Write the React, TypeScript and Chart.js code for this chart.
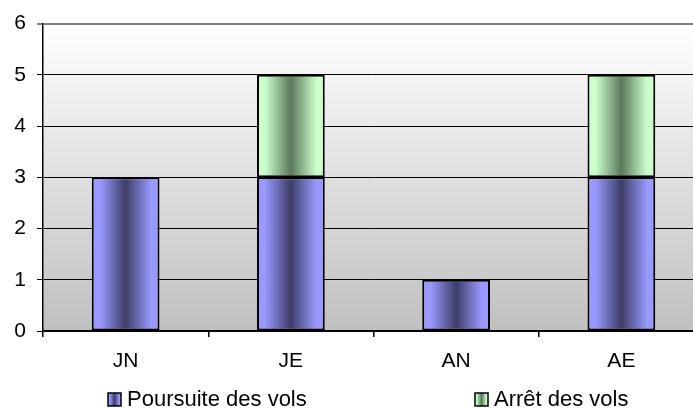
import React, { useEffect, useRef } from "react";
import { Chart, registerables } from "chart.js";

Chart.register(...registerables);

const categories = ["JN", "JE", "AN", "AE"];
const poursuite = [3, 3, 1, 3];
const arret = [null, 2, null, 2];
const seriesNames = ["Poursuite des vols", "Arrêt des vols"];
const yTicks = [0, 1, 2, 3, 4, 5, 6];

const FONT = "'Liberation Sans', Arial, sans-serif";
const BLUE_EDGE = "#9999ff";
const BLUE_MID = "#3e3e68";
const GREEN_EDGE = "#ccffcc";
const GREEN_MID = "#5a785a";
const BAR_PCT = 0.41;

function hGrad(ctx: CanvasRenderingContext2D, x0: number, x1: number, edge: string, mid: string) {
  const g = ctx.createLinearGradient(x0, 0, x1, 0);
  g.addColorStop(0, edge);
  g.addColorStop(0.12, edge);
  g.addColorStop(0.5, mid);
  g.addColorStop(0.88, edge);
  g.addColorStop(1, edge);
  return g;
}

function barFill(edge: string, mid: string) {
  return (c: any) => {
    const chart = c.chart;
    const xs = chart.scales && chart.scales.x;
    if (!chart.chartArea || !xs || c.dataIndex === undefined) return edge;
    const cx = xs.getPixelForValue(c.dataIndex);
    const w = ((xs.right - xs.left) / categories.length) * BAR_PCT;
    return hGrad(chart.ctx, cx - w / 2, cx + w / 2, edge, mid);
  };
}

const bgPlugin = {
  id: "plotBg",
  beforeDraw(chart: any) {
    const { ctx, chartArea } = chart;
    const g = ctx.createLinearGradient(0, chartArea.top, 0, chartArea.bottom);
    g.addColorStop(0, "#ffffff");
    g.addColorStop(1, "#c0c0c0");
    ctx.save();
    ctx.fillStyle = g;
    ctx.fillRect(chartArea.left, chartArea.top, chartArea.right - chartArea.left, chartArea.bottom - chartArea.top);
    ctx.restore();
  },
  afterDraw(chart: any) {
    const ctx = chart.ctx;
    const items = [
      { x: 108, text: seriesNames[0], edge: BLUE_EDGE, mid: BLUE_MID },
      { x: 475, text: seriesNames[1], edge: GREEN_EDGE, mid: GREEN_MID },
    ];
    ctx.save();
    items.forEach((it) => {
      const bx = it.x, by = 393, bw = 13, bh = 13;
      ctx.fillStyle = hGrad(ctx, bx, bx + bw, it.edge, it.mid);
      ctx.fillRect(bx, by, bw, bh);
      ctx.strokeStyle = "#000";
      ctx.lineWidth = 1.5;
      ctx.strokeRect(bx, by, bw, bh);
      ctx.fillStyle = "#000";
      ctx.font = `22px ${FONT}`;
      ctx.textBaseline = "alphabetic";
      ctx.textAlign = "left";
      ctx.fillText(it.text, bx + 19, 406);
    });
    ctx.restore();
  },
};

export default function App() {
  const ref = useRef<HTMLCanvasElement>(null);
  useEffect(() => {
    document.body.style.margin = "0";
    const chart = new Chart(ref.current!, {
      type: "bar",
      data: {
        labels: categories,
        datasets: [
          { label: seriesNames[0], data: poursuite as any, backgroundColor: barFill(BLUE_EDGE, BLUE_MID) as any },
          { label: seriesNames[1], data: arret as any, backgroundColor: barFill(GREEN_EDGE, GREEN_MID) as any },
        ],
      },
      options: {
        responsive: false,
        animation: false,
        devicePixelRatio: 1,
        layout: { padding: { top: 21, left: 0, right: 0, bottom: 0 } },
        datasets: {
          bar: {
            borderColor: "#000",
            borderWidth: 2,
            borderSkipped: false,
            categoryPercentage: 1,
            barPercentage: BAR_PCT,
          },
        } as any,
        plugins: { legend: { display: false }, tooltip: { enabled: false } },
        scales: {
          x: {
            stacked: true,
            grid: { offset: true, drawOnChartArea: false, drawTicks: true, tickLength: 6, color: "#000", lineWidth: 1.5 },
            border: { color: "#000", width: 2 },
            ticks: { color: "#000", font: { family: FONT, size: 21 }, padding: 12 },
            afterFit: (s: any) => { s.height = 77; },
          },
          y: {
            stacked: true,
            min: 0,
            max: 6,
            afterBuildTicks: (s: any) => { s.ticks = yTicks.map((v) => ({ value: v })); },
            grid: {
              color: (c: any) => (c.tick && c.tick.value === 6 ? "#808080" : "#000"),
              lineWidth: (c: any) => (c.tick && c.tick.value === 6 ? 2 : 1),
              drawTicks: true,
              tickLength: 6,
            },
            border: { color: "#000", width: 1.5 },
            ticks: { color: "#000", font: { family: FONT, size: 21 }, padding: 11, stepSize: 1 },
            afterFit: (s: any) => { s.width = 43; },
          },
        },
      },
      plugins: [bgPlugin],
    });
    return () => chart.destroy();
  }, []);
  return (
    <div style={{ width: 693, height: 408, overflow: "hidden", position: "relative" }}>
      <canvas ref={ref} width={704} height={408} style={{ display: "block" }} />
    </div>
  );
}
